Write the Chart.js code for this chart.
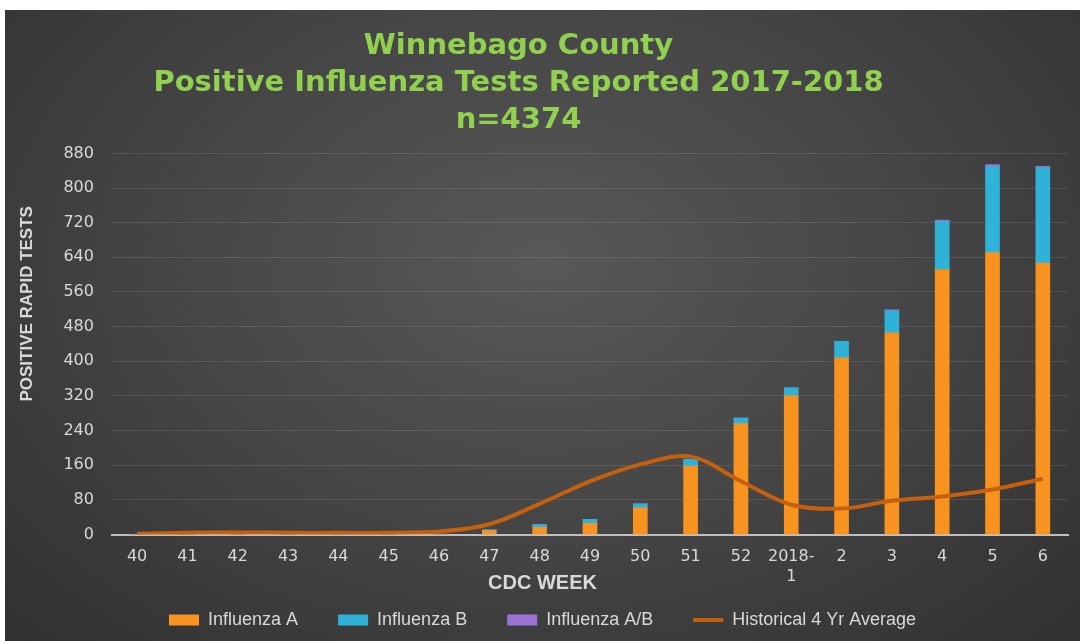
<!DOCTYPE html>
<html>
<head>
<meta charset="utf-8">
<script src="https://cdn.jsdelivr.net/npm/chart.js@4"></script>
<style>
    body {
        margin: 0;
        background: #ffffff;
    }
    .frame {
        position: absolute;
        left: 5px;
        top: 10px;
        width: 1075px;
        height: 631px;
        background: radial-gradient(ellipse at 50% 40%, #585858 0%, #474747 45%, #303030 100%);
    }
</style>
</head>
<body>
<div class="frame">
    <canvas id="chart" width="1075" height="631"></canvas>
</div>
<script>
    /*
        ----------> DATA <----------
    */

    const weeks = ["40", "41", "42", "43", "44", "45", "46", "47", "48", "49", "50", "51", "52", ["2018-", "1"], "2", "3", "4", "5", "6"];
    const fluA = [0, 0, 0, 0, 0, 0, 0, 9, 17, 26, 62, 158, 256, 321, 408, 466, 612, 651, 627];
    const fluB = [0, 0, 0, 0, 0, 0, 1, 2, 6, 9, 9, 16, 13, 18, 38, 51, 111, 199, 220];
    const fluAB = [0, 0, 0, 0, 0, 0, 0, 0, 0, 0, 0, 0, 0, 0, 0, 2, 3, 4, 3];
    const histAvg = [2, 4, 5, 4, 4, 4, 7, 24, 71, 123, 162, 180, 123, 69, 60, 78, 88, 104, 129];

    const titleLines = ["Winnebago County", "Positive Influenza Tests Reported 2017-2018", "n=4374"];

    /*
        ----------> CHART <----------
    */

    const labelColor = "#d9d9d9";
    const sans = "'Liberation Sans', Arial, sans-serif";
    const dejavu = "'DejaVu Sans', sans-serif";

    const bar = (label, data, color) => ({
        type: "bar",
        label,
        data,
        backgroundColor: color,
        borderWidth: 0,
        barThickness: 14,
        stack: "flu",
        order: 1,
    });

    // title in the original sits a little left of the canvas centre
    const shiftTitle = {
        id: "shiftTitle",
        afterLayout(chart) {
            chart.titleBlock.left -= 24;
            chart.titleBlock.right -= 24;
        },
    };

    new Chart(document.getElementById("chart"), {
        data: {
            labels: weeks,
            datasets: [
                bar("Influenza A", fluA, "#f7931e"),
                bar("Influenza B", fluB, "#2fb2d8"),
                bar("Influenza A/B", fluAB, "#9a72d6"),
                {
                    type: "line",
                    label: "Historical 4 Yr Average",
                    data: histAvg,
                    borderColor: "#c5600f",
                    backgroundColor: "#c5600f",
                    borderWidth: 4,
                    pointRadius: 0,
                    tension: 0.35,
                    stack: "hist",
                    order: 0,
                },
            ],
        },
        plugins: [shiftTitle],
        options: {
            responsive: false,
            animation: false,
            layout: {
                padding: { left: 12, right: 12, top: 18, bottom: 2 },
            },
            plugins: {
                title: {
                    display: true,
                    text: titleLines,
                    color: "#92d050",
                    font: { family: dejavu, size: 29, weight: "bold", lineHeight: 1.28 },
                    padding: { top: 0, bottom: 14 },
                },
                subtitle: {
                    display: true,
                    position: "bottom",
                    weight: 500,
                    text: "CDC WEEK",
                    color: labelColor,
                    font: { family: sans, size: 20, weight: "bold", lineHeight: 1.2 },
                    padding: { top: -20, bottom: 6 },
                },
                legend: {
                    position: "bottom",
                    labels: {
                        color: labelColor,
                        font: { family: sans, size: 18 },
                        usePointStyle: true,
                        pointStyleWidth: 30,
                        boxHeight: 11,
                        padding: 10,
                        sort: (a, b) => a.datasetIndex - b.datasetIndex,
                        generateLabels(chart) {
                            const items = Chart.defaults.plugins.legend.labels.generateLabels(chart);
                            items.forEach(item => {
                                const isLine = chart.data.datasets[item.datasetIndex].type == "line";
                                item.pointStyle = isLine ? "line" : "rect";
                                item.lineWidth = isLine ? 4 : 0;
                                if (!isLine) item.text += "\u00a0".repeat(6);
                            });
                            return items;
                        },
                    },
                },
                tooltip: { enabled: false },
            },
            scales: {
                x: {
                    stacked: true,
                    grid: { display: false },
                    border: { color: "#bfbfbf", width: 2 },
                    ticks: {
                        color: labelColor,
                        font: { family: dejavu, size: 16 },
                        maxRotation: 0,
                        autoSkip: false,
                        padding: 5,
                    },
                },
                y: {
                    stacked: true,
                    min: 0,
                    max: 880,
                    grid: { color: "rgba(255, 255, 255, 0.1)", drawTicks: false },
                    border: { display: false },
                    ticks: {
                        stepSize: 80,
                        color: labelColor,
                        font: { family: dejavu, size: 16 },
                        padding: 18,
                    },
                    title: {
                        display: true,
                        // leading spaces lift the label, as in the original
                        text: "\u00a0".repeat(17) + "POSITIVE RAPID TESTS",
                        color: labelColor,
                        font: { family: sans, size: 17, weight: "bold" },
                        padding: { top: 0, bottom: 8 },
                    },
                },
            },
        },
    });
</script>
</body>
</html>
